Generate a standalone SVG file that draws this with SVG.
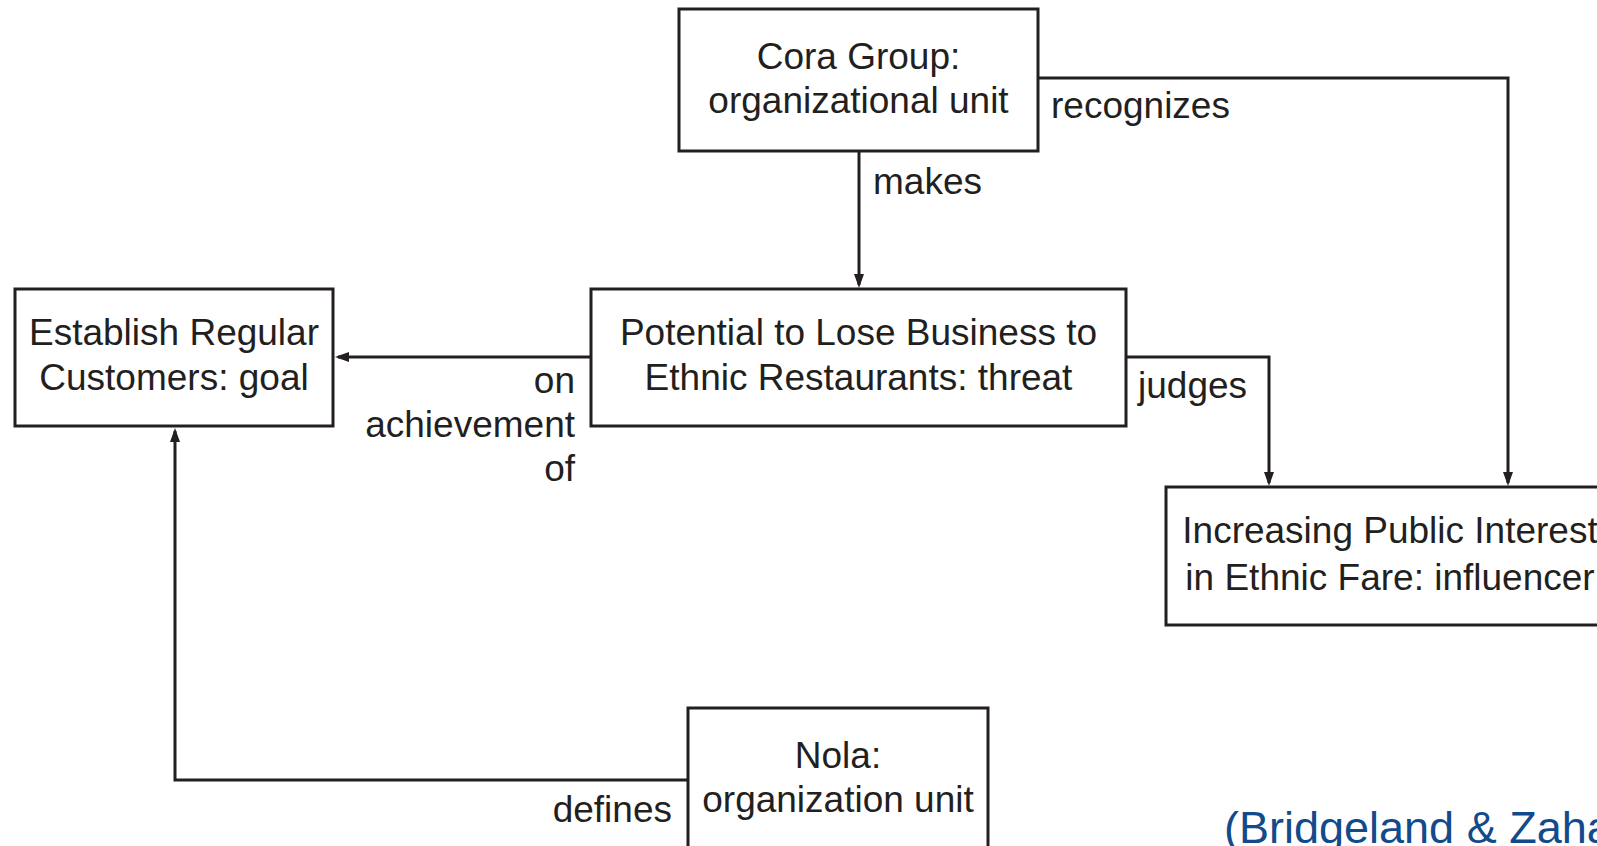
<svg xmlns="http://www.w3.org/2000/svg" width="1597" height="846" viewBox="0 0 1597 846">
<style>
.box{fill:#fff;stroke:#231f20;stroke-width:3}
.lbl{font-family:"Liberation Sans",Arial,sans-serif;font-size:37px;fill:#231f20}
.c{text-anchor:middle}
.e{text-anchor:end}
.conn{fill:none;stroke:#231f20;stroke-width:3}
.cite{font-family:"Liberation Sans",Arial,sans-serif;font-size:45px;fill:#124a8c}
</style>
<defs>
<marker id="arr" viewBox="0 0 14 10" refX="11" refY="5" markerWidth="14" markerHeight="10" markerUnits="userSpaceOnUse" orient="auto">
<path d="M0,0 L14,5 L0,10 z" fill="#231f20"/>
</marker>
</defs>
<rect width="1597" height="846" fill="#fff"/>
<g id="connectors">
<path class="conn" d="M859,151 V285" marker-end="url(#arr)"/>
<path class="conn" d="M1038,78 H1508 V483" marker-end="url(#arr)"/>
<path class="conn" d="M591,357 H338" marker-end="url(#arr)"/>
<path class="conn" d="M1126,357 H1269 V483" marker-end="url(#arr)"/>
<path class="conn" d="M688,780 H175 V431" marker-end="url(#arr)"/>
<text class="lbl" x="873" y="194">makes</text>
<text class="lbl" x="1051" y="118">recognizes</text>
<text class="lbl e" x="575" y="393">on</text>
<text class="lbl e" x="575" y="437">achievement</text>
<text class="lbl e" x="575" y="481">of</text>
<text class="lbl" x="1138" y="398">judges</text>
<text class="lbl e" x="672" y="822">defines</text>
</g>
<g id="cora">
<rect class="box" x="679" y="9" width="359" height="142"/>
<text class="lbl c" x="858.5" y="69">Cora Group:</text>
<text class="lbl c" x="858.5" y="113">organizational unit</text>
</g>
<g id="potential">
<rect class="box" x="591" y="289" width="535" height="137"/>
<text class="lbl c" x="858.5" y="345">Potential to Lose Business to</text>
<text class="lbl c" x="858.5" y="390">Ethnic Restaurants: threat</text>
</g>
<g id="establish">
<rect class="box" x="15" y="289" width="318" height="137"/>
<text class="lbl c" x="174" y="345">Establish Regular</text>
<text class="lbl c" x="174" y="390">Customers: goal</text>
</g>
<g id="increasing">
<rect class="box" x="1166" y="487" width="448" height="138"/>
<text class="lbl c" x="1390" y="543">Increasing Public Interest</text>
<text class="lbl c" x="1390" y="590">in Ethnic Fare: influencer</text>
</g>
<g id="nola">
<rect class="box" x="688" y="708" width="300" height="170"/>
<text class="lbl c" x="838" y="768">Nola:</text>
<text class="lbl c" x="838" y="812">organization unit</text>
</g>
<g id="citation">
<text class="cite" x="1224" y="843">(Bridgeland &amp; Zaha</text>
</g>
</svg>
